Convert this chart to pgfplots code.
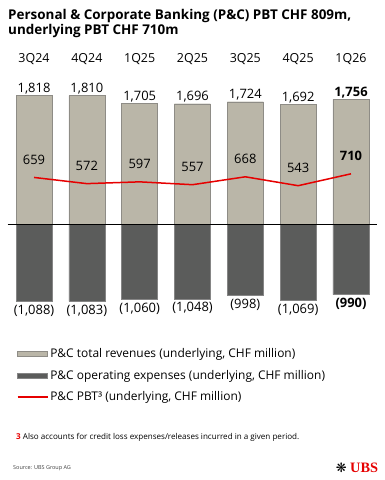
\documentclass[border=0pt]{standalone}
\usepackage{fontspec}
\setmainfont{Open Sans}
\newfontfamily\symfont{DejaVu Sans}
\newfontfamily\ubsfont{Liberation Serif}
\usepackage{pgfplots}
\pgfplotsset{compat=1.18}
\definecolor{rev}{HTML}{BAB6A8}
\definecolor{revb}{HTML}{8E8C86}
\definecolor{expc}{HTML}{5B5C5B}
\definecolor{expb}{HTML}{858585}
\definecolor{ubsred}{HTML}{E60000}
\begin{document}
\begin{tikzpicture}
\path[fill=white] (0,0) rectangle (385bp,-480bp);
\node[anchor=base west, inner sep=0, font=\bfseries\fontsize{13.5}{15}\selectfont] at (8bp,-19bp) {Personal \& Corporate Banking (P\&C) PBT CHF 809m,};
\node[anchor=base west, inner sep=0, font=\bfseries\fontsize{13.5}{15}\selectfont] at (8bp,-34.5bp) {underlying PBT CHF 710m};
\begin{axis}[
  at={(7.6bp,-309.6bp)}, anchor=south west,
  scale only axis, width=369.8bp, height=227.5bp,
  xmin=-0.5, xmax=6.5, ymin=-1200, ymax=2000,
  axis line style={draw=none}, major tick length=0pt,
  ytick=\empty, xtick={0,...,6},
  xticklabels={3Q24,4Q24,1Q25,2Q25,3Q25,4Q25,1Q26},
  xticklabel pos=top,
  xticklabel style={anchor=base, yshift=20bp, font=\fontsize{12.5}{14}\selectfont},
  clip=false,
  legend style={at={(axis description cs:0,0)}, anchor=north west, xshift=6bp, yshift=-35bp,
    draw=none, fill=none, font=\fontsize{12}{14}\selectfont, row sep=7bp},
  legend cell align=left,
]
\addplot[ybar, bar width=36bp, bar shift=0pt, fill=rev, draw=revb,
  nodes near coords, point meta=explicit symbolic,
  every node near coord/.append style={anchor=base, yshift=3bp, text=black, font=\fontsize{13}{14}\selectfont},
  legend image code/.code={\draw[fill=rev, draw=revb] (0bp,-2.4bp) rectangle (30bp,2.4bp);}]
  coordinates {(0,1818) [1,818] (1,1810) [1,810] (2,1705) [1,705] (3,1696) [1,696]
               (4,1724) [1,724] (5,1692) [1,692] (6,1756) [\textbf{1,756}]};
\addlegendentry{P\&C total revenues (underlying, CHF million)}
\addplot[ybar, bar width=36bp, bar shift=0pt, fill=expc, draw=expb,
  nodes near coords, point meta=explicit symbolic,
  every node near coord/.append style={anchor=base, yshift=-12.8bp, text=black, font=\fontsize{13}{14}\selectfont},
  legend image code/.code={\draw[fill=expc, draw=expb] (0bp,-2.4bp) rectangle (30bp,2.4bp);}]
  coordinates {(0,-1088) [(1,088)] (1,-1083) [(1,083)] (2,-1060) [(1,060)] (3,-1048) [(1,048)]
               (4,-998) [(998)] (5,-1069) [(1,069)] (6,-990) [\textbf{(990)}]};
\addlegendentry{P\&C operating expenses (underlying, CHF million)}
\addplot[sharp plot, ubsred, line width=1.5bp, mark=none,
  nodes near coords, point meta=explicit symbolic,
  every node near coord/.append style={anchor=base, yshift=13bp, text=black, font=\fontsize{13}{14}\selectfont},
  legend image code/.code={\draw[ubsred, line width=1.5bp] (0bp,0bp) -- (30bp,0bp);}]
  coordinates {(0,659) [659] (1,572) [572] (2,597) [597] (3,557) [557]
               (4,668) [668] (5,543) [543] (6,710) [\textbf{710}]};
\addlegendentry{P\&C PBT³ (underlying, CHF million)}
\draw[black, line width=0.8bp] (axis cs:-0.5,0) -- (axis cs:6.5,0);
\end{axis}
\node[anchor=base west, inner sep=0, font=\fontsize{8.1}{10}\selectfont] at (16bp,-439bp) {\textcolor{ubsred}{\bfseries 3} Also accounts for credit loss expenses/releases incurred in a given period.};
\node[anchor=base west, inner sep=0, text=black!75, font=\fontsize{5.5}{6}\selectfont] at (13bp,-469bp) {Source: UBS Group AG};
\node[anchor=base west, inner sep=0, text=ubsred, font=\ubsfont\bfseries\fontsize{14.4}{15}\selectfont] at (350bp,-472bp) {UBS};
\node[anchor=base east, inner sep=0, font=\symfont\fontsize{13}{13}\selectfont] at (347bp,-472bp) {❋};
\end{tikzpicture}
\end{document}
